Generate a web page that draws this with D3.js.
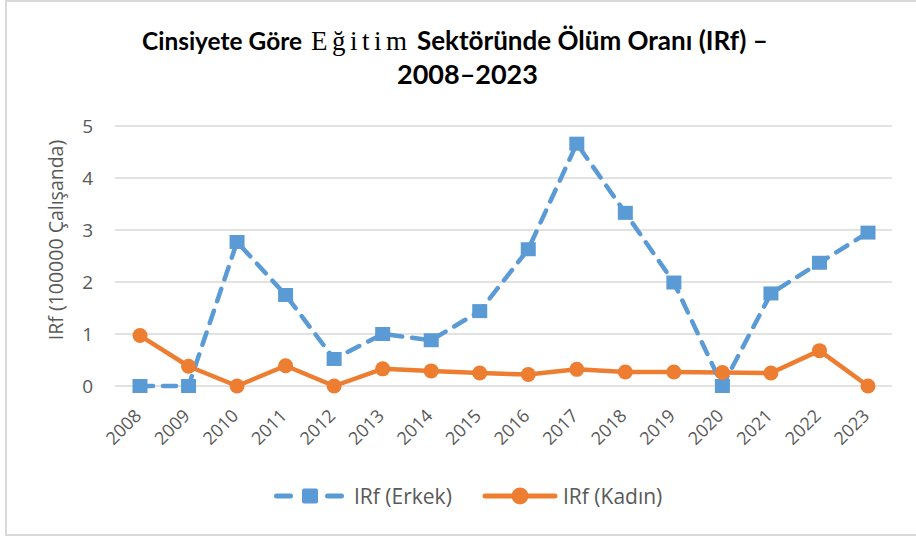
<!DOCTYPE html>
<html>
<head>
<meta charset="utf-8">
<script src="https://cdn.jsdelivr.net/npm/d3@7"></script>
<style>
  body { margin: 0; background: #fff; }
  svg { display: block; }
</style>
</head>
<body>
<div class="chart-wrap"></div>
<script>
// 데이터
const years = ["2008","2009","2010","2011","2012","2013","2014","2015","2016","2017","2018","2019","2020","2021","2022","2023"];
const erkek = [0, 0, 2.77, 1.75, 0.52, 1.0, 0.88, 1.44, 2.63, 4.66, 3.33, 1.99, 0, 1.78, 2.37, 2.95];
const kadin = [0.97, 0.38, 0, 0.39, 0, 0.33, 0.29, 0.25, 0.22, 0.32, 0.27, 0.27, 0.26, 0.25, 0.68, 0];
const yTicks = [0, 1, 2, 3, 4, 5];
const seriesNames = ["IRf (Erkek)", "IRf (Kadın)"];

const W = 916, H = 538;
const blue = "#5b9bd5", orange = "#ed7d31", grey = "#595959";
const sans = "Open Sans, sans-serif";

const svg = d3.select(".chart-wrap").append("svg")
  .attr("width", W).attr("height", H);

// 바깥 테두리
svg.append("rect")
  .attr("x", 6).attr("y", 1).attr("width", W).attr("height", 534)
  .attr("fill", "#fff").attr("stroke", "#d9d9d9").attr("stroke-width", 2);

const x = d3.scalePoint().domain(years).range([140, 868]);
const y = d3.scaleLinear().domain([0, 5]).range([386, 126]);

// 격자선
svg.append("g").selectAll("line")
  .data(yTicks).enter().append("line")
  .attr("x1", 115).attr("x2", 892)
  .attr("y1", d => y(d)).attr("y2", d => y(d))
  .attr("stroke", "#d9d9d9").attr("stroke-width", 1.5);

// y 축
const yAxis = svg.append("g")
  .attr("transform", "translate(93,0)")
  .call(d3.axisLeft(y).tickValues(yTicks).tickFormat(d3.format("d")).tickSize(0).tickPadding(0));
yAxis.select(".domain").remove();
yAxis.selectAll("text")
  .attr("fill", grey).attr("font-family", sans).attr("font-size", 19);

// x 축
const xAxis = svg.append("g")
  .attr("transform", "translate(0,386)")
  .call(d3.axisBottom(x).tickSize(0).tickPadding(0));
xAxis.select(".domain").remove();
xAxis.selectAll("text")
  .attr("fill", grey).attr("font-family", sans).attr("font-size", 18)
  .attr("text-anchor", "end")
  .attr("y", 0).attr("dy", 0)
  .attr("transform", "translate(2,31) rotate(-45)");

// y 축 제목
svg.append("text")
  .attr("transform", "translate(63,240) rotate(-90)")
  .attr("text-anchor", "middle")
  .attr("fill", grey).attr("font-family", sans).attr("font-size", 19.5)
  .text("IRf (100000 Çalışanda)");

// 제목 (여러 글꼴이 섞여 있음)
const tFont = "Lato, sans-serif";
svg.append("text")
  .attr("x", 142).attr("y", 50)
  .attr("font-family", tFont).attr("font-weight", "bold").attr("font-size", 25)
  .attr("textLength", 160).attr("lengthAdjust", "spacingAndGlyphs")
  .text("Cinsiyete Göre");
svg.append("text")
  .attr("x", 311).attr("y", 50)
  .attr("font-family", "Liberation Serif, serif").attr("font-size", 27)
  .attr("textLength", 96).attr("lengthAdjust", "spacing")
  .text("Eğitim");
svg.append("text")
  .attr("x", 417).attr("y", 50)
  .attr("font-family", tFont).attr("font-weight", "bold").attr("font-size", 26)
  .text("Sektöründe Ölüm Oranı (IRf) –");
svg.append("text")
  .attr("x", 397).attr("y", 84)
  .attr("font-family", tFont).attr("font-weight", "bold").attr("font-size", 27)
  .text("2008–2023");

const line = d3.line().x((d, i) => x(years[i])).y(d => y(d));

// 여성 선
svg.append("path").datum(kadin)
  .attr("d", line).attr("fill", "none")
  .attr("stroke", orange).attr("stroke-width", 4.5).attr("stroke-linejoin", "round");

// 남성 선 (점선)
svg.append("path").datum(erkek)
  .attr("d", line).attr("fill", "none")
  .attr("stroke", blue).attr("stroke-width", 4.5)
  .attr("stroke-dasharray", "13,10").attr("stroke-linecap", "round");

svg.append("g").selectAll("rect")
  .data(erkek).enter().append("rect")
  .attr("x", (d, i) => x(years[i]) - 7.5)
  .attr("y", d => y(d) - 7)
  .attr("width", 15).attr("height", 14)
  .attr("fill", blue);

svg.append("g").selectAll("circle")
  .data(kadin).enter().append("circle")
  .attr("cx", (d, i) => x(years[i]))
  .attr("cy", d => y(d))
  .attr("r", 7.5)
  .attr("fill", orange);

// 범례
const legend = svg.append("g").attr("transform", "translate(0,496)");
const lg1 = legend.append("g");
lg1.append("line").attr("x1", 276.5).attr("x2", 341.5).attr("y1", 0).attr("y2", 0)
  .attr("stroke", blue).attr("stroke-width", 5)
  .attr("stroke-dasharray", "14,37").attr("stroke-linecap", "round");
lg1.append("rect").attr("x", 302).attr("y", -7.5).attr("width", 16).attr("height", 15)
  .attr("rx", 2).attr("fill", blue);
lg1.append("text").attr("x", 354).attr("y", 7.5)
  .attr("fill", grey).attr("font-family", sans).attr("font-size", 21)
  .text(seriesNames[0]);

const lg2 = legend.append("g");
lg2.append("line").attr("x1", 485).attr("x2", 555).attr("y1", 0).attr("y2", 0)
  .attr("stroke", orange).attr("stroke-width", 5).attr("stroke-linecap", "round");
lg2.append("circle").attr("cx", 520).attr("cy", 0).attr("r", 8.5).attr("fill", orange);
lg2.append("text").attr("x", 563).attr("y", 7.5)
  .attr("fill", grey).attr("font-family", sans).attr("font-size", 21)
  .text(seriesNames[1]);
</script>
</body>
</html>
